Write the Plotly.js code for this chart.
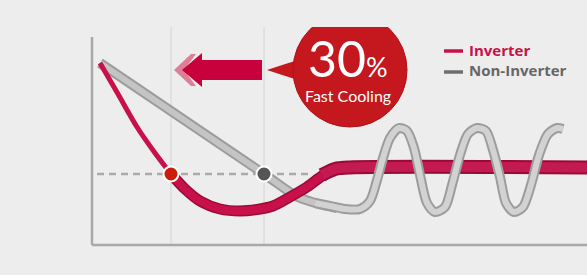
<!DOCTYPE html>
<html>
<head>
<meta charset="utf-8">
<script src="https://cdn.plot.ly/plotly-3.0.1.min.js"></script>
<style>html,body{margin:0;padding:0;background:#ededed;}#chart{width:587px;height:275px;}</style>
</head>
<body>
<div id="chart"></div>
<script>
// ---- data (time units, temperature units; schematic) ----
const seriesNames = ["Inverter", "Non-Inverter"];
const settingTemp = 71;
const setTimeInverter = 79;
const setTimeNonInverter = 172;

// Inverter: fast descent, small undershoot, then flat at setting
const invTimeA = [8, 26, 45, 63, 79];
const invTempA = [182, 151, 118, 92, 71];
const invTimeB = [79, 93, 108, 128, 148, 168, 181, 198, 215, 230, 243, 258];
const invTempB = [71, 56, 44, 36, 34, 36, 39, 48, 58, 69, 76, 78];
const invTimeC = [230, 243, 258, 495];
const invTempC = [70, 76, 77.5, 77.5];

// Non-inverter: slow linear descent, then oscillation
const nonTimeA = [8, 172, 206, 231, 245];
const nonTempA = [182, 71, 48, 40, 37];
const nonTimeB = [223, 238, 253, 268, 278, 285, 291, 298, 307, 315, 322, 328, 335, 343, 353, 360, 368, 376, 385, 394, 401, 408, 414, 422, 431, 439, 447, 456, 465, 471];
const nonTempB = [42, 39, 36, 36, 44, 65, 87, 107, 117, 114, 97, 70, 42, 33, 38, 60, 90, 111, 117, 114, 95, 68, 42, 33, 38, 60, 90, 111, 117, 116];

const dashTime = [5, 218];
const gridTimes = [setTimeInverter, setTimeNonInverter];

const RED = "#c8104a";
const RED_DARK = "#9a0a38";
const GRAY = "#c4c4c4";
const GRAY_DARK = "#9c9c9c";

function line(x, y, color, width, shape) {
  return {
    type: "scatter", mode: "lines", x: x, y: y, hoverinfo: "skip", showlegend: false,
    line: {color: color, width: width, shape: shape || "spline", smoothing: 0.8}
  };
}

const traces = [
  // setting temp dashed line
  {type: "scatter", mode: "lines", x: dashTime, y: [settingTemp, settingTemp], hoverinfo: "skip", showlegend: false,
   line: {color: "#aaaaaa", width: 2.5, dash: "7px,5px"}},
  // non-inverter straight descent (under red)
  line(nonTimeA, nonTempA, GRAY_DARK, 10),
  line(nonTimeA, nonTempA, GRAY, 6),
  // inverter
  line(invTimeA, invTempA, RED, 5),
  line(invTimeB, invTempB, RED_DARK, 11),
  line(invTimeB, invTempB, RED, 8),
  line(invTimeC, invTempC, RED_DARK, 14),
  line(invTimeC, invTempC, "#c41a52", 10),
  // non-inverter oscillation (over red)
  line(nonTimeB, nonTempB, GRAY_DARK, 10),
  line(nonTimeB, nonTempB, "#d2d2d2", 6),
  // markers at setting temperature
  {type: "scatter", mode: "markers", x: [setTimeInverter], y: [settingTemp], hoverinfo: "skip", showlegend: false,
   marker: {size: 15, color: "#cc1c0c", line: {color: "#ffffff", width: 2}}},
  {type: "scatter", mode: "markers", x: [setTimeNonInverter], y: [settingTemp], hoverinfo: "skip", showlegend: false,
   marker: {size: 15, color: "#555555", line: {color: "#ffffff", width: 2}}}
];

const shapes = [];
// vertical guide lines
gridTimes.forEach(function (t) {
  shapes.push({type: "line", xref: "x", yref: "y", x0: t, x1: t, y0: 0, y1: 218, layer: "below",
               line: {color: "#d4d4d4", width: 1}});
});
// axes
shapes.push({type: "line", xref: "x", yref: "y", x0: 0, x1: 0, y0: 0, y1: 208, line: {color: "#a8a8a8", width: 2.5}});
shapes.push({type: "line", xref: "x", yref: "y", x0: 0, x1: 495, y0: 0, y1: 0, line: {color: "#a8a8a8", width: 2.5}});
// ghost arrow head
shapes.push({type: "path", xref: "x", yref: "y", path: "M 82 175 L 99 191 L 104 191 L 92 175 L 104 159 L 99 159 Z",
             fillcolor: "#de7f98", line: {width: 0}});
// red arrow
shapes.push({type: "path", xref: "x", yref: "y",
             path: "M 90 175 L 110 192 L 110 185 L 170 185 L 170 165 L 110 165 L 110 158 Z",
             fillcolor: "#c8003c", line: {width: 0}});
// badge tail
shapes.push({type: "path", xref: "x", yref: "y", path: "M 175 175 Q 190 180 206 185 L 206 165 Q 190 170 175 175 Z",
             fillcolor: "#c4171e", line: {width: 0}});
// badge circle
shapes.push({type: "circle", xref: "x", yref: "y", x0: 201, x1: 315, y0: 118, y1: 232,
             fillcolor: "#c4171e", line: {color: "#ae1218", width: 1}});
// legend dashes
shapes.push({type: "line", xref: "x", yref: "y", x0: 352, x1: 371, y0: 194, y1: 194, line: {color: RED, width: 3.5}});
shapes.push({type: "line", xref: "x", yref: "y", x0: 352, x1: 371, y0: 173, y1: 173, line: {color: "#6e6e6e", width: 3.5}});

const FONT = "Open Sans, Noto Sans, sans-serif";
const BADGE_FONT = "Lato, Open Sans, sans-serif";
const annotations = [
  {x: -44, y: 182, xref: "x", yref: "y", text: "Temp.", showarrow: false,
   font: {family: FONT, size: 17, color: "#333333"}},
  {x: -47, y: 56, xref: "x", yref: "y", text: "Setting<br>Temp.", showarrow: false,
   font: {family: FONT, size: 17, color: RED}},
  {x: 462, y: -22, xref: "x", yref: "y", text: "Time", showarrow: false,
   font: {family: FONT, size: 17, color: "#333333"}},
  {x: 375, y: 195, xref: "x", yref: "y", xanchor: "left", text: "<b>" + seriesNames[0] + "</b>", showarrow: false,
   font: {family: FONT, size: 15, color: RED}},
  {x: 375, y: 175, xref: "x", yref: "y", xanchor: "left", text: "<b>" + seriesNames[1] + "</b>", showarrow: false,
   font: {family: FONT, size: 15, color: "#666666"}},
  {x: 256, y: 187, xref: "x", yref: "y",
   text: "30<span style='font-size:27px'>%</span>",
   showarrow: false, font: {family: BADGE_FONT, size: 50, color: "#ffffff"}},
  {x: 256, y: 150, xref: "x", yref: "y", text: "Fast Cooling",
   showarrow: false, font: {family: BADGE_FONT, size: 16, color: "#ffffff"}}
];

const layout = {
  width: 587, height: 275,
  margin: {l: 88, r: 0, t: 27, b: 27, pad: 0},
  paper_bgcolor: "#ededed",
  plot_bgcolor: "rgba(0,0,0,0)",
  showlegend: false,
  xaxis: {range: [-4, 495], visible: false, fixedrange: true},
  yaxis: {range: [-3, 218], visible: false, fixedrange: true},
  shapes: shapes,
  annotations: annotations
};

Plotly.newPlot("chart", traces, layout, {staticPlot: true, displayModeBar: false});
</script>
</body>
</html>
